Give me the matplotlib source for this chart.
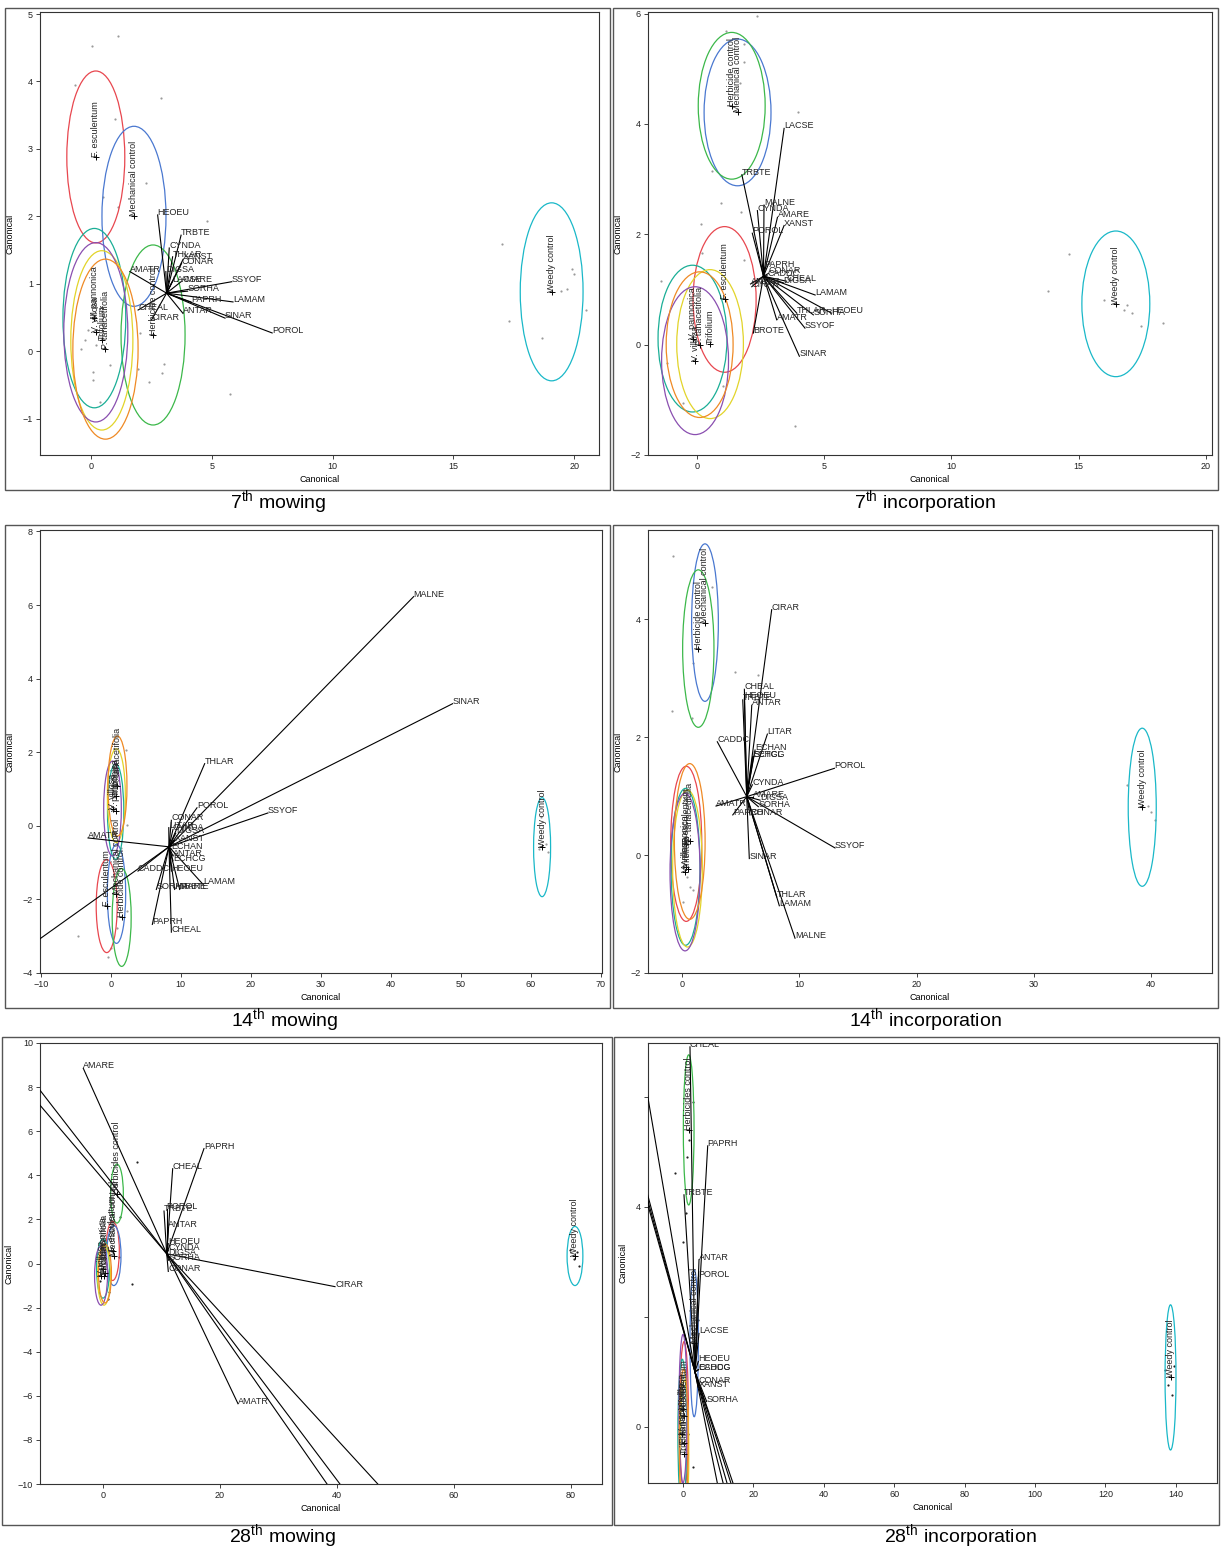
import matplotlib
matplotlib.use('Agg')
import matplotlib.pyplot as plt
from matplotlib.patches import Ellipse, Rectangle

plt.rcParams['font.family'] = ['Liberation Sans', 'DejaVu Sans']
plt.rcParams['mathtext.fontset'] = 'custom'
plt.rcParams['mathtext.rm'] = 'Liberation Sans'

# group order: F. esculentum, Mechanical, Herbicide, Weedy, V. pannonica, Trifolium, V. villosa, P. tanacetifolia
group_colors = ['#e8474f', '#4a78d0', '#3cb84a', '#1ab8c8', '#1aae96', '#e2d42a', '#8a4fb0', '#ef8a25']
groups_a = ['F. esculentum', 'Mechanical control', 'Herbicide control', 'Weedy control',
            'V. pannonica', 'Trifolium', 'V. villosa', 'P. tanacetifolia']
groups_b = ['F. esculentum', 'Mechanical control', 'Herbicides control', 'Weedy control',
            'V. pannonica', 'Trifolium', 'V. villosa', 'P. tanacetifolia']

# ---- 7th mowing
p1_mean_x = [0.2, 1.78, 2.57, 19.07, 0.14, 0.45, 0.2, 0.6]
p1_mean_y = [2.88, 2.0, 0.24, 0.88, 0.49, 0.16, 0.28, 0.03]
p1_ell_w = [2.4, 2.65, 2.65, 2.6, 2.6, 2.57, 2.65, 2.7]
p1_ell_h = [2.55, 2.67, 2.67, 2.64, 2.66, 2.66, 2.66, 2.67]
p1_origin = (3.13, 0.86)
p1_species = ['HEOEU', 'TRBTE', 'CYNDA', 'THLAR', 'XANST', 'CONAR', 'DIGSA', 'AMATR', 'LACSE', 'AMARE',
              'SORHA', 'SSYOF', 'LAMAM', 'PAPRH', 'ANTAR', 'SINAR', 'POROL', 'CHEAL', 'CIRAR']
p1_vec_x = [2.76, 3.73, 3.24, 3.38, 3.81, 3.75, 3.1, 1.61, 3.35, 3.73, 4.0, 5.83, 5.88, 4.14, 3.81, 5.55, 7.5, 1.95, 2.5]
p1_vec_y = [2.02, 1.72, 1.53, 1.40, 1.36, 1.30, 1.18, 1.18, 1.02, 1.03, 0.89, 1.03, 0.73, 0.73, 0.56, 0.49, 0.27, 0.61, 0.46]
p1_obs_x = [-0.66, 0.04, 1.12, 2.89, 0.99, 2.28, 0.5, 1.12, 4.79, 2.03, -0.43, 0.07, 0.07, 0.79, 1.95, 3.02,
            2.93, 2.4, 5.76, 0.37, -0.12, 0.2, 0.54, -0.25, 17.0, 17.3, 18.67, 19.9, 20.0, 19.7, 19.46, 20.48]
p1_obs_y = [3.95, 4.53, 4.67, 3.76, 3.44, 2.49, 2.28, 2.14, 1.93, 0.27, 0.03, -0.31, -0.43, -0.21, -0.27, -0.19,
            -0.32, -0.45, -0.64, -0.76, 0.31, 0.09, 0.34, 0.16, 1.59, 0.45, 0.2, 1.22, 1.14, 0.92, 0.89, 0.61]

# ---- 7th incorporation
p2_mean_x = [1.08, 1.59, 1.36, 16.46, -0.18, 0.51, -0.08, 0.1]
p2_mean_y = [0.82, 4.21, 4.33, 0.74, 0.11, 0.01, -0.29, 0.0]
p2_ell_w = [2.48, 2.63, 2.63, 2.67, 2.71, 2.62, 2.63, 2.63]
p2_ell_h = [2.64, 2.66, 2.66, 2.64, 2.66, 2.7, 2.68, 2.64]
p2_origin = (2.61, 1.24)
p2_species = ['LACSE', 'TRBTE', 'MALNE', 'CYNDA', 'AMARE', 'XANST', 'POROL', 'PAPRH', 'CONAR', 'CADDC',
              'CHEAL', 'DIGSA', 'ANTAR', 'CIRAR', 'LAMAM', 'HEOEU', 'SORHA', 'THLAR', 'AMATR', 'SSYOF',
              'SINAR', 'BROTE']
p2_vec_x = [3.42, 1.76, 2.63, 2.37, 3.16, 3.42, 2.17, 2.63, 2.8, 2.75, 3.52, 3.39, 2.1, 2.15, 4.64, 5.29,
            4.57, 3.92, 3.13, 4.24, 4.02, 2.21]
p2_vec_y = [3.92, 3.08, 2.53, 2.43, 2.31, 2.16, 2.02, 1.4, 1.29, 1.25, 1.15, 1.12, 1.1, 1.05, 0.9, 0.57,
            0.54, 0.57, 0.45, 0.3, -0.21, 0.21]
p2_obs_x = [2.36, 1.14, 1.85, 1.85, 1.69, 3.98, 0.58, 0.94, 1.73, 0.16, 0.18, 1.86, -1.43, -1.19, 1.01,
            -0.55, 3.85, 14.62, 13.8, 16.0, 16.9, 16.8, 17.1, 17.45, 18.3]
p2_obs_y = [5.95, 5.68, 5.45, 5.13, 4.75, 4.21, 3.14, 2.57, 2.41, 2.19, 1.67, 1.54, 1.15, -0.33, -0.75,
            -1.05, -1.47, 1.65, 0.98, 0.81, 0.72, 0.62, 0.58, 0.34, 0.4]

# ---- 14th mowing
p3_mean_x = [-0.57, 0.83, 1.57, 61.64, 0.71, 0.81, 0.26, 0.97]
p3_mean_y = [-2.18, -1.85, -2.49, -0.58, 0.39, 0.82, 0.47, 1.08]
p3_ell_w = [3.0, 2.62, 2.71, 2.43, 2.33, 2.57, 2.52, 2.71]
p3_ell_h = [2.53, 2.69, 2.66, 2.69, 2.6, 2.55, 2.58, 2.72]
p3_origin = (8.33, -0.57)
p3_species = ['MALNE', 'SINAR', 'THLAR', 'POROL', 'SSYOF', 'CONAR', 'LITAR', 'DIGSA', 'CYNDA', 'XANST',
              'ECHAN', 'AMATR', 'ANTAR', 'ECHCG', 'HEOEU', 'CADDC', 'LAMAM', 'SORHA', 'AMARE', 'TRBTE',
              'PAPRH', 'CHEAL', 'LACSE']
p3_vec_x = [43.29, 48.86, 13.43, 12.33, 22.47, 8.67, 8.3, 9.3, 8.9, 9.1, 8.71, -3.24, 8.9, 8.9, 8.67, 3.9,
            13.19, 6.52, 9.14, 9.86, 5.95, 8.67, -25.0]
p3_vec_y = [6.23, 3.32, 1.69, 0.49, 0.35, 0.15, -0.05, -0.2, -0.1, -0.4, -0.64, -0.33, -0.82, -0.95, -1.23,
            -1.23, -1.59, -1.73, -1.73, -1.73, -2.68, -2.89, -5.09]
p3_obs_x = [-4.71, -0.43, 2.14, 2.33, 0.1, 2.33, 0.9, 1.5, 0.4, 61.43, 62.14, 61.14, 62.43]
p3_obs_y = [-3.0, -3.57, 2.07, 0.02, -3.33, -2.32, -2.77, -0.6, 1.6, 0.25, -0.5, -0.64, -0.72]

# ---- 14th incorporation
p4_mean_x = [0.36, 1.96, 1.39, 39.25, 0.3, 0.47, 0.26, 0.66]
p4_mean_y = [0.19, 3.94, 3.5, 0.81, -0.2, -0.23, -0.29, 0.23]
p4_ell_w = [2.65, 2.28, 2.67, 2.39, 2.47, 2.53, 2.56, 2.62]
p4_ell_h = [2.63, 2.67, 2.67, 2.68, 2.66, 2.66, 2.67, 2.64]
p4_origin = (5.52, 0.99)
p4_species = ['CIRAR', 'CHEAL', 'HEOEU', 'TRBTE', 'ANTAR', 'LITAR', 'CADDC', 'ECHAN', 'ECHCG', 'SETGL',
              'POROL', 'CYNDA', 'AMARE', 'DIGSA', 'SORHA', 'AMATR', 'PAPRH', 'CONAR', 'SSYOF', 'SINAR',
              'THLAR', 'LAMAM', 'MALNE']
p4_vec_x = [7.65, 5.32, 5.32, 5.18, 5.95, 7.28, 3.01, 6.23, 6.03, 6.1, 13.0, 6.0, 6.08, 6.66, 6.51, 2.9,
            4.33, 5.8, 13.05, 5.74, 8.08, 8.3, 9.64]
p4_vec_y = [4.16, 2.81, 2.66, 2.63, 2.54, 2.05, 1.92, 1.78, 1.67, 1.67, 1.47, 1.19, 0.99, 0.93, 0.82, 0.83,
            0.68, 0.68, 0.12, -0.06, -0.71, -0.86, -1.41]
p4_obs_x = [-0.79, -0.88, 2.53, 0.96, 4.52, 6.46, 0.83, 0.68, 0.96, 0.4, 0.1, 37.97, 39.76, 40.02, 40.36]
p4_obs_y = [5.07, 2.45, 4.55, 3.26, 3.11, 3.05, 2.33, -0.54, -0.59, -0.37, -0.8, 1.19, 0.83, 0.73, 0.59]

# ---- 28th mowing
p5_mean_x = [1.65, 1.85, 2.39, 80.68, 0.0, 0.17, -0.34, 0.34]
p5_mean_y = [0.57, 0.36, 3.17, 0.34, -0.23, -0.55, -0.55, -0.45]
p5_ell_w = [2.28, 2.45, 2.17, 2.7, 2.2, 2.2, 2.2, 2.2]
p5_ell_h = [2.68, 2.72, 2.67, 2.68, 2.68, 2.68, 2.68, 2.68]
p5_origin = (10.89, 0.44)
p5_species = ['AMARE', 'PAPRH', 'CHEAL', 'POROL', 'TRBTE', 'ANTAR', 'HEOEU', 'CYNDA', 'DIGSA', 'SORHA',
              'CONAR', 'CIRAR', 'AMATR', 'LACSE', 'SSYOF', 'SINAR', 'LAMAM', 'THLAR']
p5_vec_x = [-3.37, 17.26, 11.91, 10.89, 10.43, 11.16, 11.16, 11.16, 11.16, 11.2, 11.16, 39.66, 23.08,
            -20.0, -20.0, 48.8, 51.85, 60.8]
p5_vec_y = [8.85, 5.21, 4.3, 2.49, 2.38, 1.65, 0.9, 0.6, 0.4, 0.15, -0.36, -1.05, -6.36,
            11.02, 10.05, -14.0, -14.0, -14.0]
p5_obs_x = [5.76, 4.9, 2.79, 2.9, 2.2, 0.5, -0.5, 1.0, 0.2, -0.3, 0.8, 79.9, 80.5, 81.3, 81.0]
p5_obs_y = [4.6, -0.92, 0.29, 2.1, 3.6, 0.0, -0.8, -1.3, 1.0, 0.4, -1.6, 0.6, 0.2, -0.1, 0.5]

# ---- 28th incorporation
p6_mean_x = [0.3, 3.18, 1.62, 138.5, -0.2, 0.4, 0.0, 0.2]
p6_mean_y = [0.2, 1.52, 5.4, 0.9, -0.12, -0.5, 0.33, -0.3]
p6_ell_w = [2.5, 2.37, 3.04, 3.1, 2.5, 2.5, 2.3, 2.5]
p6_ell_h = [2.7, 2.67, 2.73, 2.64, 2.7, 2.7, 2.7, 2.7]
p6_origin = (3.4, 1.0)
p6_species = ['CHEAL', 'PAPRH', 'TRBTE', 'ANTAR', 'POROL', 'LACSE', 'HEOEU', 'CADDC', 'ECHCG', 'CONAR',
              'XANST', 'SORHA', 'AMARE', 'SSYOF', 'SINAR', 'LAMAM', 'CIRAR', 'AMATR', 'THLAR', 'MALNE', 'DIGSA']
p6_vec_x = [1.99, 7.02, 0.28, 4.55, 4.35, 4.55, 4.35, 4.35, 4.4, 4.35, 4.35, 6.73,
            -40.0, -40.0, -40.0, -40.0, 12.83, 15.28, 16.91, 18.55, 19.44]
p6_vec_y = [6.91, 5.11, 4.22, 3.04, 2.72, 1.7, 1.19, 1.04, 1.04, 0.79, 0.72, 0.46,
            17.2, 11.4, 11.1, 10.85, -2.0, -2.0, -2.0, -2.0, -2.0]
p6_obs_x = [2.93, 1.8, 1.05, -2.27, 0.85, 0.09, 4.35, 1.51, 2.93, 0.5, -0.4, 137.8, 138.9, 136.9, 139.5]
p6_obs_y = [5.91, 5.22, 4.91, 4.62, 3.89, 3.37, 1.95, -0.12, -0.72, -0.4, 0.3, 0.76, 0.58, 1.04, 1.1]

W, H = 1222, 1549
fig = plt.figure(figsize=(W / 100, H / 100), dpi=100)


def px_axes(left, top, right, bottom):
    return fig.add_axes([left / W, 1 - bottom / H, (right - left) / W, (bottom - top) / H])


def draw_panel(ax, xlim, ylim, names, mx, my, ew, eh, origin, species, vx, vy, ox, oy, dot_color, ypad=6):
    ax.set_xlim(*xlim)
    ax.set_ylim(*ylim)
    ax.scatter(ox, oy, s=2.5, color=dot_color, linewidths=0, zorder=1)
    for name, x, y, w, h, c in zip(names, mx, my, ew, eh, group_colors):
        ax.add_patch(Ellipse((x, y), w, h, fill=False, edgecolor=c, lw=0.9, zorder=2))
        ax.plot(x, y, '+', color='k', ms=4, mew=0.7, zorder=4)
        ax.text(x, y, name, rotation=90, rotation_mode='anchor', ha='left', va='center',
                fontsize=6.5, color='#222222', zorder=5)
    for sp, x, y in zip(species, vx, vy):
        ax.plot([origin[0], x], [origin[1], y], color='k', lw=0.8, zorder=3)
        # species whose vector tip lies beyond the frame have no visible label
        if xlim[0] <= x <= xlim[1] and ylim[0] <= y <= ylim[1]:
            ax.text(x, y, sp, fontsize=6.5, ha='left', va='baseline', color='#222222',
                    clip_on=True, zorder=5)
    for s in ax.spines.values():
        s.set_linewidth(0.8)
        s.set_color('#333333')
    ax.tick_params(direction='out', length=3, width=0.6, labelsize=6.5, pad=2, colors='#222222')
    ax.set_xlabel('Canonical', fontsize=6.5, labelpad=3)
    ax.set_ylabel('Canonical', fontsize=6.5, labelpad=ypad)


ax1 = px_axes(40, 12, 599, 455)
draw_panel(ax1, (-2.11, 21.03), (-1.54, 5.03), groups_a, p1_mean_x, p1_mean_y, p1_ell_w, p1_ell_h,
           p1_origin, p1_species, p1_vec_x, p1_vec_y, p1_obs_x, p1_obs_y, '#9a9a9a')
ax1.set_xticks([0, 5, 10, 15, 20])
ax1.set_yticks([-1, 0, 1, 2, 3, 4, 5])

ax2 = px_axes(648, 12, 1212, 455)
draw_panel(ax2, (-1.93, 20.24), (-1.99, 6.03), groups_a, p2_mean_x, p2_mean_y, p2_ell_w, p2_ell_h,
           p2_origin, p2_species, p2_vec_x, p2_vec_y, p2_obs_x, p2_obs_y, '#9a9a9a')
ax2.set_xticks([0, 5, 10, 15, 20])
ax2.set_yticks([-2, 0, 2, 4, 6])

ax3 = px_axes(40, 530, 602, 973)
draw_panel(ax3, (-10.1, 70.2), (-4, 8.04), groups_a, p3_mean_x, p3_mean_y, p3_ell_w, p3_ell_h,
           p3_origin, p3_species, p3_vec_x, p3_vec_y, p3_obs_x, p3_obs_y, '#9a9a9a')
ax3.set_xticks(list(range(-10, 71, 10)))
ax3.set_yticks([-4, -2, 0, 2, 4, 6, 8])

ax4 = px_axes(648, 530, 1212, 973)
draw_panel(ax4, (-2.9, 45.2), (-2.0, 5.51), groups_a, p4_mean_x, p4_mean_y, p4_ell_w, p4_ell_h,
           p4_origin, p4_species, p4_vec_x, p4_vec_y, p4_obs_x, p4_obs_y, '#9a9a9a')
ax4.set_xticks([0, 10, 20, 30, 40])
ax4.set_yticks([-2, 0, 2, 4])

ax5 = px_axes(40, 1043, 602, 1484)
draw_panel(ax5, (-10.77, 85.3), (-10, 10), groups_b, p5_mean_x, p5_mean_y, p5_ell_w, p5_ell_h,
           p5_origin, p5_species, p5_vec_x, p5_vec_y, p5_obs_x, p5_obs_y, '#222222', ypad=3)
ax5.set_xticks([0, 20, 40, 60, 80])
ax5.set_yticks(list(range(-10, 11, 2)))

ax6 = px_axes(648, 1043, 1217, 1483)
draw_panel(ax6, (-9.94, 151.7), (-1.02, 6.98), groups_b, p6_mean_x, p6_mean_y, p6_ell_w, p6_ell_h,
           p6_origin, p6_species, p6_vec_x, p6_vec_y, p6_obs_x, p6_obs_y, '#222222')
ax6.set_xticks(list(range(0, 141, 20)))
ax6.set_yticks([0, 2, 4, 6])
ax6.set_yticklabels(['0', '', '4', ''])

# panel frames and captions
frames = [(5, 8, 610, 490), (613, 8, 1218, 490), (5, 525, 610, 1008), (613, 525, 1218, 1008),
          (2, 1037, 612, 1525), (614, 1037, 1219, 1525)]
for l, t, r, b in frames:
    fig.add_artist(Rectangle((l / W, 1 - b / H), (r - l) / W, (b - t) / H, transform=fig.transFigure,
                             fill=False, edgecolor='#555555', lw=1.0))

captions = [(278, 503, r'7$^{\mathrm{th}}$ mowing'), (925, 503, r'7$^{\mathrm{th}}$ incorporation'),
            (285, 1021, r'14$^{\mathrm{th}}$ mowing'), (925, 1021, r'14$^{\mathrm{th}}$ incorporation'),
            (283, 1537, r'28$^{\mathrm{th}}$ mowing'), (960, 1537, r'28$^{\mathrm{th}}$ incorporation')]
for x, y, s in captions:
    fig.text(x / W, 1 - y / H, s, ha='center', va='center', fontsize=14)

fig.savefig('out.png', dpi=100)
